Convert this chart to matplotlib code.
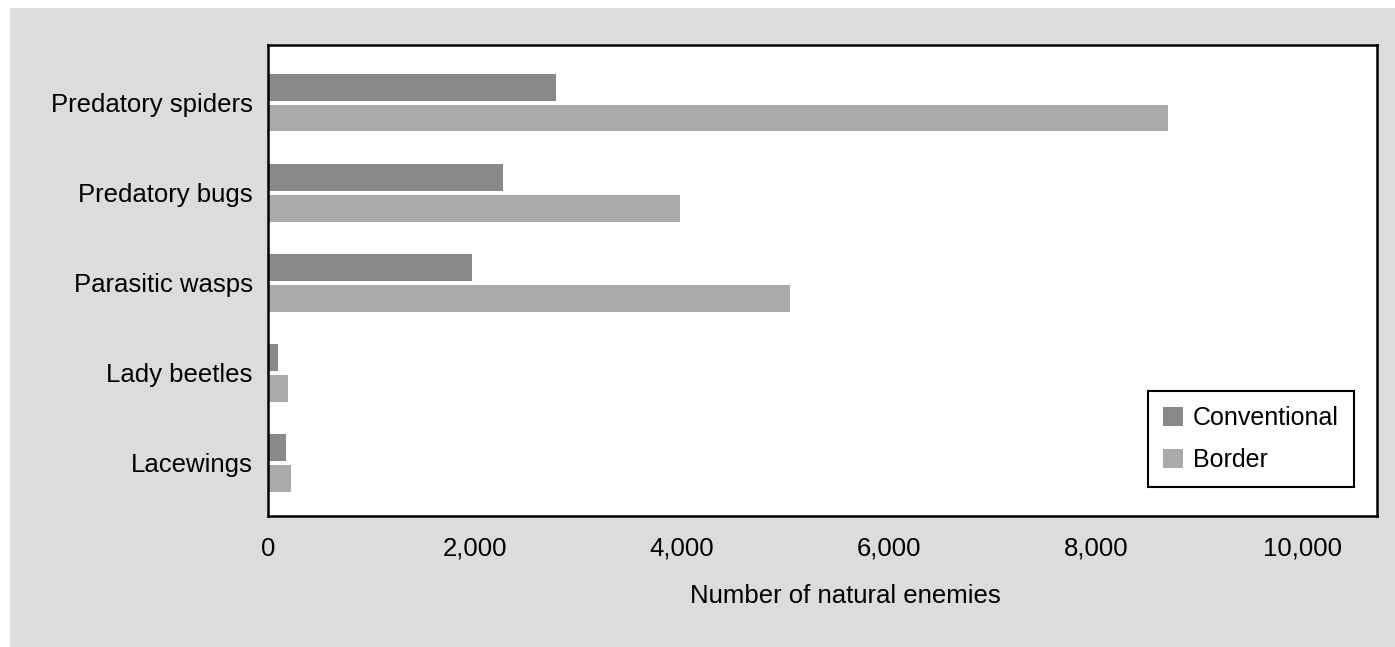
import numpy as np
import matplotlib.pyplot as plt
from matplotlib.patches import Rectangle

categories = ["Predatory spiders", "Predatory bugs", "Parasitic wasps",
              "Lady beetles", "Lacewings"]
conventional = [2780, 2270, 1970, 95, 170]
border = [8700, 3980, 5040, 190, 220]
xticks = [0, 2000, 4000, 6000, 8000, 10000]

plt.rcParams["font.family"] = ["Liberation Sans", "DejaVu Sans"]
plt.rcParams["font.size"] = 18.5

W, H = 1395, 647
fig = plt.figure(figsize=(W / 100, H / 100), dpi=100, facecolor="white")

# halftone-grey panel behind the chart
fig.patches.append(Rectangle((10 / W, 0), 1 - 10 / W, 1 - 8 / H,
                             transform=fig.transFigure, facecolor="#dcdcdc",
                             edgecolor="none", zorder=-10))

ax = fig.add_axes([268 / W, 1 - 516 / H, (1377 - 268) / W, (516 - 45) / H])
ax.set_facecolor("white")

y = np.arange(len(categories))
h = 0.29
off = 0.172
ax.barh(y - off, conventional, height=h, color="#898989", label="Conventional")
ax.barh(y + off, border, height=h, color="#aaaaaa", label="Border")

ax.set_xlim(0, 10715)
ax.set_ylim(4.589, -0.644)
ax.set_yticks(y)
ax.set_yticklabels(categories)
ax.set_xticks(xticks)
ax.set_xticklabels([f"{v:,}" for v in xticks])
ax.tick_params(axis="both", length=0)
ax.tick_params(axis="x", pad=15)
ax.tick_params(axis="y", pad=11)
for s in ax.spines.values():
    s.set_linewidth(1.8)
    s.set_color("black")

ax.set_xlabel("Number of natural enemies", x=0.521, labelpad=17)

leg = ax.legend(loc="lower right", bbox_to_anchor=(0.979, 0.062),
                borderaxespad=0, frameon=True, fancybox=False,
                edgecolor="black", framealpha=1, fontsize=18,
                handlelength=0.8, handleheight=0.8, handletextpad=0.4,
                borderpad=0.6, labelspacing=0.7)
leg.get_frame().set_linewidth(1.5)

fig.savefig("out.png", dpi=100, facecolor=fig.get_facecolor())
